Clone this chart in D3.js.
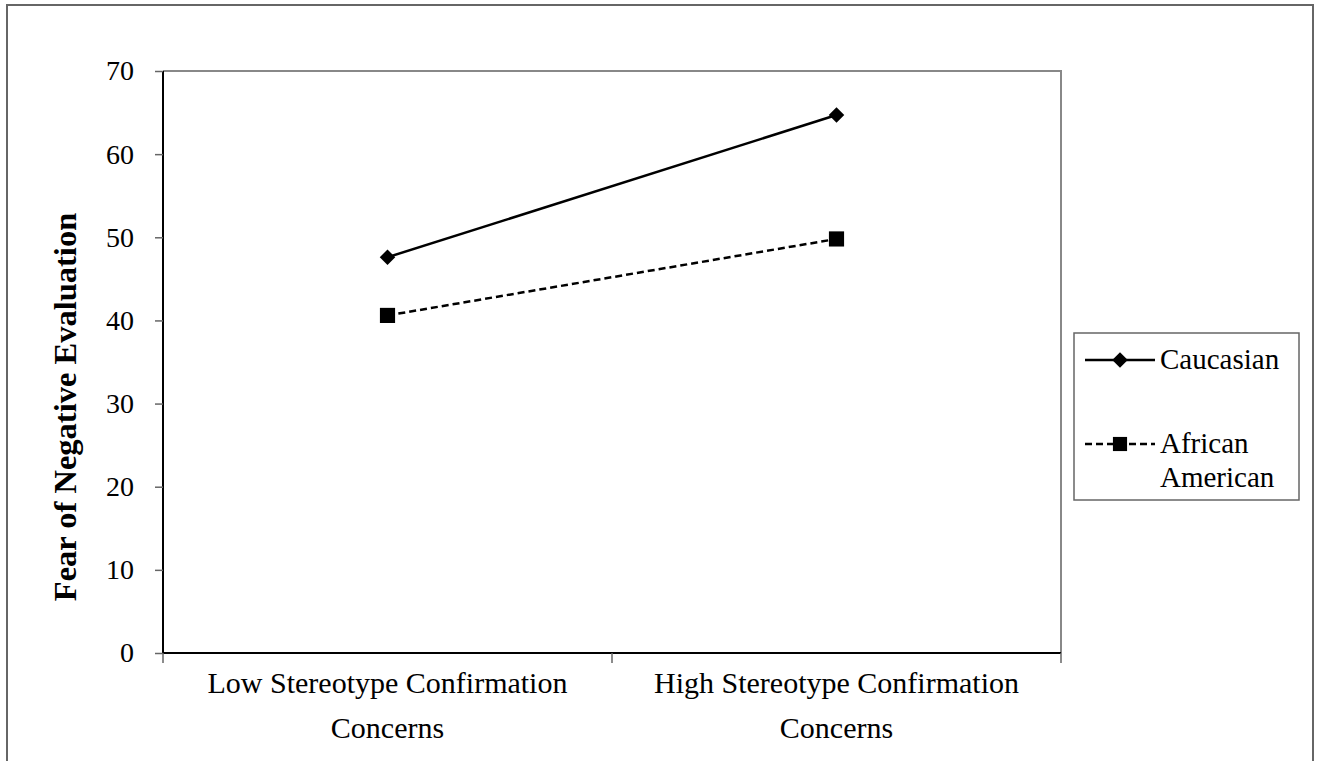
<!DOCTYPE html>
<html><head><meta charset="utf-8">
<script src="https://cdn.jsdelivr.net/npm/d3@7"></script>
</head>
<body style="margin:0;background:#fff"><svg id="chart" width="1317" height="761"></svg>
<script>
const categories = ["Low Stereotype Confirmation\nConcerns", "High Stereotype Confirmation\nConcerns"];
const caucasian = [47.6, 64.7];
const africanAmerican = [40.6, 49.8];
const yTicks = [0, 10, 20, 30, 40, 50, 60, 70];
const seriesNames = ["Caucasian", "African\nAmerican"];

(function(){
const FONT = '"Liberation Serif"';
const svg = d3.select("#chart");
const pl = 163, pr = 1061, pt = 71, pb = 653;

// outer frame
svg.append("rect").attr("x",7).attr("y",5).attr("width",1306).attr("height",800)
  .attr("fill","none").attr("stroke","#666").attr("stroke-width",2);

const x = d3.scaleBand().domain(categories).range([pl,pr]);
const y = d3.scaleLinear().domain([0,70]).range([pb,pt]);

// plot border (top, right)
svg.append("path").attr("d",`M${pl},${pt}H${pr}V${pb}`)
  .attr("fill","none").attr("stroke","#888").attr("stroke-width",2);

// y axis
const yAxis = svg.append("g").attr("transform",`translate(${pl},0)`)
  .call(d3.axisLeft(y).tickValues(yTicks).tickSize(8).tickPadding(21));
yAxis.attr("font-family",null).attr("font-size",null);
yAxis.select(".domain").attr("stroke","#000").attr("stroke-width",2).attr("d",`M0,${pt}V${pb}`);
yAxis.selectAll(".tick line").attr("stroke","#666").attr("stroke-width",1.5);
yAxis.selectAll("text").style("font-family",FONT).style("font-size","28px").attr("fill","#000");

// x axis
const xAxis = svg.append("g").attr("transform",`translate(0,${pb})`)
  .call(d3.axisBottom(x).tickSize(0).tickFormat(""));
xAxis.select(".domain").attr("stroke","#000").attr("stroke-width",2).attr("d",`M${pl},0H${pr}`);
const bounds = [pl].concat(categories.map(c=>x(c)+x.bandwidth()));
svg.append("g").selectAll("line").data(bounds).join("line")
  .attr("x1",d=>d).attr("x2",d=>d).attr("y1",pb).attr("y2",pb+10)
  .attr("stroke","#666").attr("stroke-width",1.5);

// category labels
categories.forEach(c=>{
  const t = svg.append("text").attr("text-anchor","middle")
    .style("font-family",FONT).style("font-size","30px");
  c.split("\n").forEach((line,i)=>{
    t.append("tspan").attr("x",x(c)+x.bandwidth()/2).attr("y",693+i*45).style("font-family",FONT).text(line);
  });
});

// y title
svg.append("text").attr("transform",`translate(76,407) rotate(-90)`).attr("text-anchor","middle")
  .style("font-family",FONT).style("font-size","32.5px").style("font-weight","bold").text("Fear of Negative Evaluation");

const cx = c => x(c)+x.bandwidth()/2;
const line = d3.line().x((d,i)=>cx(categories[i])).y(d=>y(d));

svg.append("path").datum(caucasian).attr("d",line).attr("fill","none").attr("stroke","#000").attr("stroke-width",2.5);
svg.append("path").datum(africanAmerican).attr("d",line).attr("fill","none").attr("stroke","#000").attr("stroke-width",2.5).attr("stroke-dasharray","7,4");

const diamond = d3.symbol().type(d3.symbolSquare).size(120);
svg.append("g").selectAll("path").data(caucasian).join("path")
  .attr("d",diamond).attr("transform",(d,i)=>`translate(${cx(categories[i])},${y(d)}) rotate(45)`).attr("fill","#000");
const square = d3.symbol().type(d3.symbolSquare).size(230);
svg.append("g").selectAll("path").data(africanAmerican).join("path")
  .attr("d",square).attr("transform",(d,i)=>`translate(${cx(categories[i])},${y(d)})`).attr("fill","#000");

// legend
const lg = svg.append("g");
lg.append("rect").attr("x",1074).attr("y",333).attr("width",225).attr("height",167)
  .attr("fill","#fff").attr("stroke","#666").attr("stroke-width",1.5);
lg.append("line").attr("x1",1085).attr("x2",1155).attr("y1",360).attr("y2",360).attr("stroke","#000").attr("stroke-width",2.5);
lg.append("path").attr("d",diamond).attr("transform","translate(1120,360) rotate(45)");
lg.append("text").attr("x",1160).attr("y",369).style("font-family",FONT).style("font-size","29px").text(seriesNames[0]);
lg.append("line").attr("x1",1085).attr("x2",1155).attr("y1",444).attr("y2",444).attr("stroke","#000").attr("stroke-width",2.5).attr("stroke-dasharray","7,4");
lg.append("path").attr("d",d3.symbol().type(d3.symbolSquare).size(200)).attr("transform","translate(1120,444)");
const at = lg.append("text").style("font-family",FONT).style("font-size","29px");
seriesNames[1].split("\n").forEach((l,i)=>at.append("tspan").attr("x",1160).attr("y",453+i*34).text(l));
})();
</script></body></html>
